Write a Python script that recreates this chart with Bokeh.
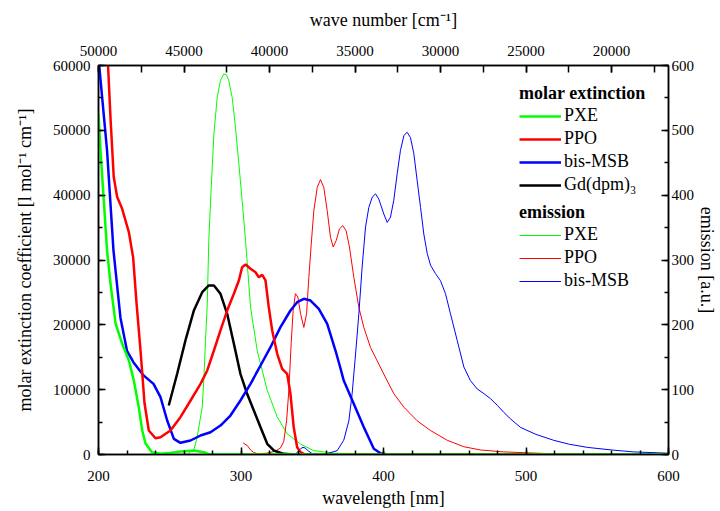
from bokeh.plotting import figure
from bokeh.models import (Range1d, LinearAxis, SingleIntervalTicker, Legend, LegendItem,
                          BasicTickFormatter)
from bokeh.embed import file_html
from bokeh.resources import INLINE

# ---------------- data ----------------
# molar extinction coefficient [l mol^-1 cm^-1], left axis
pxe_abs_wl = [200, 201.4, 203.7, 206, 208.4, 212, 216.6, 221.3, 224.8, 228.3, 230.7, 233, 237.7,
              243.5, 250, 257.5, 266.9, 273.9, 277.5, 285, 600]
pxe_abs = [52500, 46900, 39200, 31500, 26400, 20200, 17100, 14500, 11400, 7200, 3700, 1700, 300,
           100, 250, 460, 620, 360, 50, 0, 0]

ppo_abs_wl = [205.8, 206.7, 208.4, 210.7, 213.1, 216.6, 221.3, 224.3, 226.7, 229.5, 232.3, 235.3,
              240, 243.5, 250.5, 257.5, 264.6, 271.6, 276.3, 281, 285.6, 290.3, 295, 298.5, 300.8,
              303.2, 306.7, 310.2, 312.5, 314.9, 317.2, 319.5, 321.9, 325.4, 328.9, 332.4, 334.7,
              337, 339.4, 341.8, 345, 600]
ppo_abs = [64000, 60000, 52000, 42800, 39700, 37900, 34300, 30400, 23300, 16000, 7900, 3700,
           2500, 2670, 3700, 5760, 8330, 10900, 12960, 16040, 19130, 22200, 24800, 26840, 28900,
           29300, 28640, 28100, 27350, 27700, 26840, 22700, 19130, 15530, 13200, 12450, 9360,
           4200, 1130, 360, 0, 0]

msb_abs_wl = [199.5, 200.5, 206, 210.5, 215.4, 220, 224.6, 231.6, 238.6, 243.5, 248.2, 252.9,
              257.5, 264.6, 271.6, 278.6, 285.6, 292.6, 299.6, 306.7, 313.7, 320.7, 327.7, 334.7,
              339.4, 344.1, 348.8, 354.6, 360.5, 366.3, 369.8, 372.1, 379.2, 386.2, 393.2, 397.9,
              403, 600]
msb_abs = [63000, 60000, 46900, 31500, 21100, 16000, 14200, 12200, 10900, 8840, 5240, 2420,
           1800, 2160, 2930, 3440, 4470, 6010, 8330, 10900, 13730, 16550, 19640, 22210,
           23490, 24010, 23750, 22470, 20160, 16040, 13300, 11400, 7800, 4200, 880, 200,
           0, 0]

gd_abs_wl = [249.3, 255.2, 261, 266.9, 272.8, 277.4, 281, 285.6, 290.3, 295, 299.6, 304.3, 309,
             313.7, 318.4, 323, 330, 337, 358]
gd_abs = [7560, 12450, 17580, 22200, 25030, 26070, 26070, 24790, 21700, 17070, 12450, 9360, 6790,
          4210, 1650, 620, 100, 0, 0]

# emission [a.u.], right axis
pxe_em_wl = [262, 267, 269.3, 271, 272.8, 274, 275.1, 276.3, 277.4, 279.1, 281, 283.3, 285.6,
             287.9, 289.8, 291.4, 293.8, 296.1, 298.5, 300.8, 303.2, 306.7, 311.4, 318.4, 325.4,
             332.4, 341.8, 351.1, 365, 400, 420]
pxe_em = [0, 8, 27, 50, 73, 119, 176, 230, 330, 412, 495, 551, 577,
          587, 586, 577, 551, 505, 448, 392, 330, 227, 160, 99, 58,
          32, 16, 6, 2, 0, 0]

ppo_em_wl = [301.5, 302, 304.3, 306.7, 309, 312, 318, 324, 327.7, 330, 332, 333.6, 335.2, 336.6,
             338.2, 339.9, 341.8, 344.1, 346, 347.6, 349.3, 351.1, 353.5, 355.8, 358.1, 360.5,
             362.8, 364.7, 366.8, 369.1, 371.4, 373.8, 376.1, 379.2, 382.7, 386.2, 390.9, 395,
             400.2, 407.2, 414.3, 423.6, 433, 444.7, 456.4, 468, 484.4, 520, 600]
ppo_em = [18, 17, 14, 7, 3, 1, 2, 5, 10, 20, 52, 100, 171, 222,
          248, 243, 217, 196, 217, 273, 325, 376, 412, 424, 412, 376,
          335, 320, 330, 348, 353, 345, 320, 273, 227, 196, 165, 147,
          124, 94, 73, 52, 37, 22, 12, 7, 4, 1, 0]

msb_em_wl = [338, 341.8, 343.5, 345, 347, 350, 360, 367.5, 372.1, 375.7, 378, 380.4, 382.7, 385,
             387.4, 389.7, 392.1, 394.4, 396.7, 400.2, 402.6, 404.9, 407.2, 409.6, 411.9, 414.3,
             416.6, 418.9, 421.3, 423.6, 426, 428.3, 430.7, 433, 436.5, 440, 443.5, 447, 451.7,
             456.4, 461, 465.8, 470.4, 475.1, 479.8, 484.4, 489.1, 496, 507, 519.3, 530, 543,
             560, 575.6, 600]
msb_em = [0, 9, 11, 10, 6, 1, 1, 6, 22, 52, 94, 155, 217, 289,
          351, 381, 397, 402, 394, 371, 358, 366, 392, 433, 469, 492,
          497, 489, 464, 423, 381, 340, 310, 292, 279, 268, 248, 217, 176,
          135, 114, 101, 94, 86, 76, 65, 55, 42, 31, 22, 16, 11,
          7, 4, 2]

FONT = "Liberation Serif"

p = figure(width=720, height=511, output_backend="svg", toolbar_location=None,
           x_range=Range1d(200, 600), y_range=Range1d(0, 60000),
           x_axis_location=None, y_axis_location=None,
           min_border_left=98, min_border_right=52, min_border_top=65, min_border_bottom=57)
p.xgrid.visible = False
p.ygrid.visible = False
p.outline_line_color = "black"
p.outline_line_width = 1.5
p.background_fill_color = "white"
p.border_fill_color = "white"

p.extra_x_ranges = {"wn": Range1d(50000, 1e7 / 600)}
p.extra_y_ranges = {"em": Range1d(0, 600)}


def style(ax, major_in=7, minor_in=4, label_standoff=6, title_standoff=5):
    ax.axis_line_color = "black"
    ax.axis_line_width = 1.5
    ax.major_tick_line_color = "black"
    ax.minor_tick_line_color = "black"
    ax.major_tick_line_width = 1.5
    ax.minor_tick_line_width = 1.5
    ax.major_tick_in = major_in
    ax.major_tick_out = 0
    ax.minor_tick_in = minor_in
    ax.minor_tick_out = 0
    ax.major_label_text_font = FONT
    ax.major_label_text_font_size = "15px"
    ax.major_label_text_color = "black"
    ax.axis_label_text_font = FONT
    ax.axis_label_text_font_size = "18px"
    ax.axis_label_text_font_style = "normal"
    ax.axis_label_text_color = "black"
    ax.major_label_standoff = label_standoff
    ax.axis_label_standoff = title_standoff
    ax.formatter = BasicTickFormatter(use_scientific=False)


bottom = LinearAxis(ticker=SingleIntervalTicker(interval=100, num_minor_ticks=5),
                    axis_label="wavelength [nm]")
style(bottom, label_standoff=16, title_standoff=4)
p.add_layout(bottom, "below")

left = LinearAxis(ticker=SingleIntervalTicker(interval=10000, num_minor_ticks=2),
                  axis_label="molar extinction coefficient [l mol⁻¹ cm⁻¹]")
style(left, label_standoff=8, title_standoff=15)
p.add_layout(left, "left")

top = LinearAxis(x_range_name="wn", ticker=SingleIntervalTicker(interval=5000, num_minor_ticks=2),
                 axis_label="wave number [cm⁻¹]")
style(top, major_in=7, minor_in=7, label_standoff=10, title_standoff=13)
p.add_layout(top, "above")

right = LinearAxis(y_range_name="em", ticker=SingleIntervalTicker(interval=100, num_minor_ticks=2),
                   axis_label="emission [a.u.]")
style(right, label_standoff=3, title_standoff=0)
p.add_layout(right, "right")

GREEN, RED, BLUE, BLACK = "#00ff00", "#ff0000", "#0000ff", "#000000"

# emission (thin) first so absorption sits on top
e1 = p.line(pxe_em_wl, pxe_em, y_range_name="em", line_color=GREEN, line_width=1)
e2 = p.line(ppo_em_wl, ppo_em, y_range_name="em", line_color=RED, line_width=1)
e3 = p.line(msb_em_wl, msb_em, y_range_name="em", line_color=BLUE, line_width=1)
a4 = p.line(gd_abs_wl, gd_abs, line_color=BLACK, line_width=2.5)
a3 = p.line(msb_abs_wl, msb_abs, line_color=BLUE, line_width=2.5)
a2 = p.line(ppo_abs_wl, ppo_abs, line_color=RED, line_width=2.5)
a1 = p.line(pxe_abs_wl, pxe_abs, line_color=GREEN, line_width=2.5)


def legend_style(lg):
    lg.title_text_font = FONT
    lg.title_text_font_style = "bold"
    lg.title_text_font_size = "18px"
    lg.title_text_color = "black"
    lg.title_standoff = 1
    lg.label_text_font = FONT
    lg.label_text_font_size = "18px"
    lg.label_text_color = "black"
    lg.border_line_alpha = 0
    lg.background_fill_alpha = 0
    lg.padding = 0
    lg.margin = 0
    lg.glyph_width = 42
    lg.glyph_height = 20
    lg.label_height = 20
    lg.spacing = 2
    lg.label_standoff = 3


leg1 = Legend(items=[LegendItem(label="PXE", renderers=[a1]),
                     LegendItem(label="PPO", renderers=[a2]),
                     LegendItem(label="bis-MSB", renderers=[a3]),
                     LegendItem(label="Gd(dpm)₃", renderers=[a4])],
              title="molar extinction", location=(421, 259))
legend_style(leg1)
p.add_layout(leg1)

leg2 = Legend(items=[LegendItem(label="PXE", renderers=[e1]),
                     LegendItem(label="PPO", renderers=[e2]),
                     LegendItem(label="bis-MSB", renderers=[e3])],
              title="emission", location=(421, 163))
legend_style(leg2)
p.add_layout(leg2)

open("out.html", "w").write(file_html(p, INLINE))
